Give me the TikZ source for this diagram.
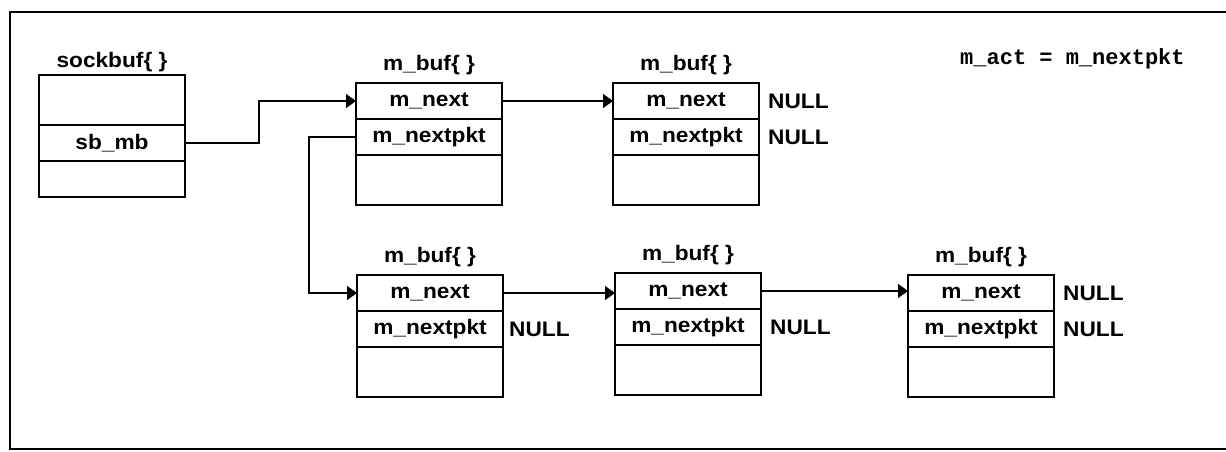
\documentclass[tikz,border=0pt]{standalone}
\usepackage{fontspec}
\setmainfont{Liberation Sans}
\setmonofont{Liberation Mono}
\newfontfamily\labelfont[FakeStretch=1.08]{Liberation Sans}
\usetikzlibrary{arrows.meta}

% one field of a structure box
\tikzset{
  lbl/.style={font=\labelfont\bfseries\fontsize{21}{24}\selectfont},
  cell/.style={draw, line width=1.3pt, minimum width=146pt, minimum height=36pt,
    inner sep=0pt, outer sep=0pt, anchor=north west, lbl},
  tallcell/.style={cell, minimum height=50pt},
  boxtitle/.style={anchor=base, inner sep=0pt, lbl},
  nullmark/.style={anchor=west, inner sep=0pt, xshift=9pt, lbl},
  code/.style={anchor=base west, inner sep=0pt, font=\ttfamily\bfseries\fontsize{22}{24}\selectfont},
  link/.style={line width=1.3pt, -{Triangle[length=10pt,width=14pt]}},
  frame/.style={line width=1.3pt},
}

% \bufbox{name}{x}{y}: an m_buf structure with its title
\newcommand\bufbox[3]{%
  \node[cell] (#1a) at (#2,#3) {m\_next};
  \node[cell] (#1b) at (#1a.south west) {m\_nextpkt};
  \node[tallcell] (#1c) at (#1b.south west) {};
  \node[boxtitle] (#1t) at ([yshift=13pt]#1a.north) {m\_buf\{ \}};
}

\begin{document}
\begin{tikzpicture}[x=1pt,y=-1pt]
  \useasboundingbox (0,0) rectangle (1226,451);
  \begin{scope}
    \clip (0,0) rectangle (1226,451);
    \draw[frame] (10,12) rectangle (1240,449);
  \end{scope}

  % socket buffer
  \node[tallcell] (sa) at (39,75) {};
  \node[cell] (sb) at (sa.south west) {sb\_mb};
  \node[cell] (sc) at (sb.south west) {};
  \node[boxtitle] (st) at ([yshift=8pt]sa.north) {sockbuf\{ \}};

  % mbuf chains
  \bufbox{ta}{356}{83}
  \bufbox{tb}{613}{83}
  \bufbox{ba}{357}{275}
  \bufbox{bb}{615}{273}
  \bufbox{bc}{908}{275}

  % NULL pointers
  \node[nullmark] (n1) at (tba.east) {NULL};
  \node[nullmark] (n2) at (tbb.east) {NULL};
  \node[nullmark, xshift=-3pt] (n3) at (bab.east) {NULL};
  \node[nullmark] (n4) at (bbb.east) {NULL};
  \node[nullmark] (n5) at (bca.east) {NULL};
  \node[nullmark] (n6) at (bcb.east) {NULL};

  \node[code] (act) at (960,64) {m\_act = m\_nextpkt};

  % pointers
  \draw[link] (sb.east) -- ++(74,0) |- (taa.west);
  \draw[link] (tab.west) -- ++(-47,0) |- (baa.west);
  \draw[link] (taa.east) -- (tba.west);
  \draw[link] (baa.east) -- (baa.east -| bba.west);
  \draw[link] (bba.east) -- (bba.east -| bca.west);
\end{tikzpicture}
\end{document}
